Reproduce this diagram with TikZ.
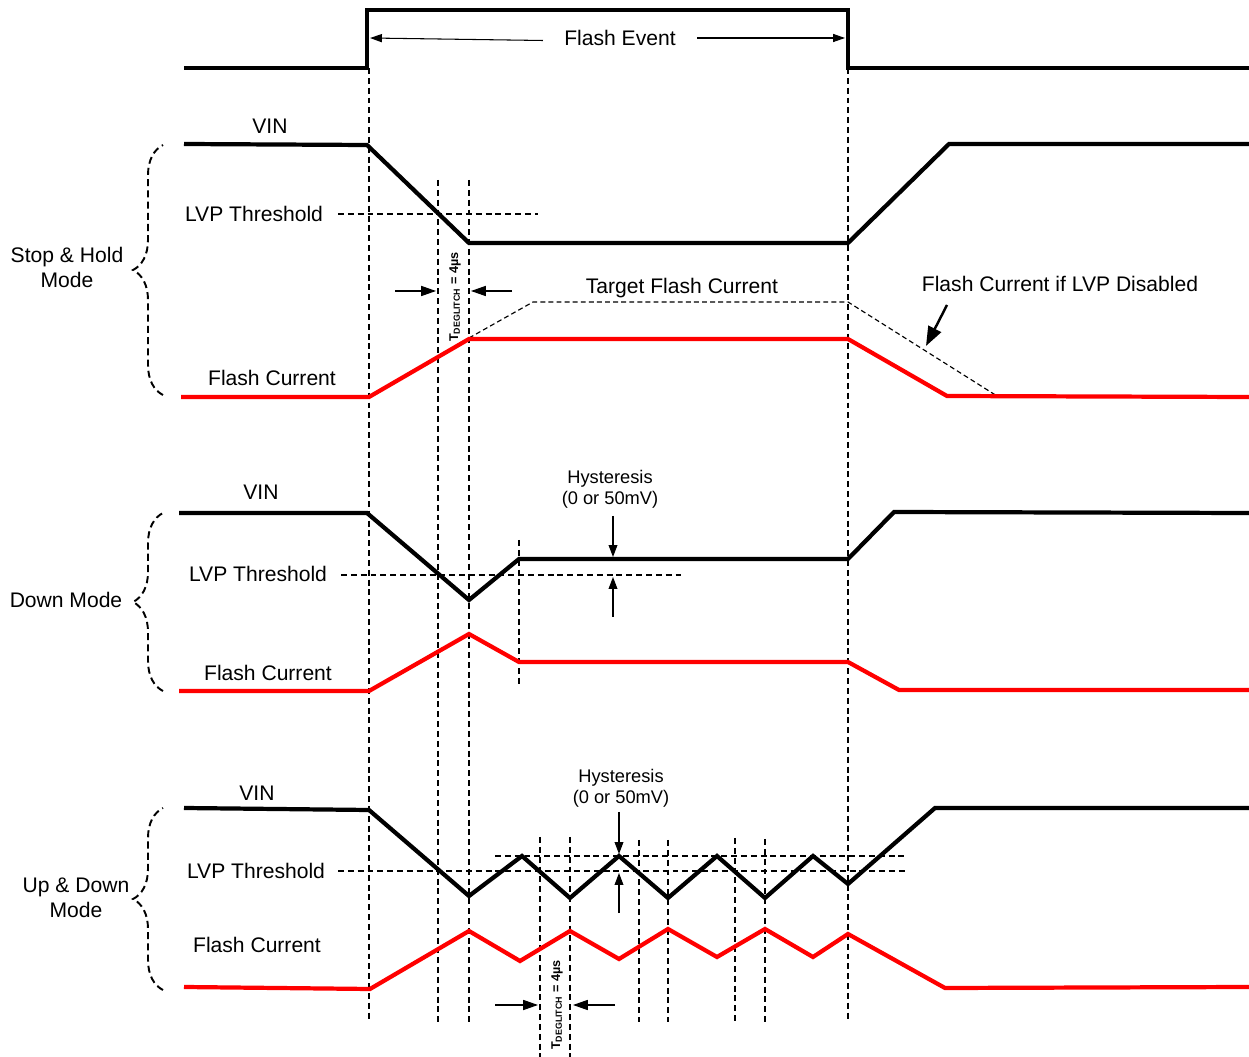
\documentclass[tikz,border=0pt]{standalone}
\usepackage{fontspec}
\setmainfont{Liberation Sans}
\usetikzlibrary{arrows.meta, decorations.pathreplacing}

\begin{document}
\begin{tikzpicture}[
  x=0.02cm, y=-0.02cm,
  font=\fontsize{12}{14.2}\selectfont,
  wave/.style={line width=2.4pt, draw=black},
  fcur/.style={line width=2.4pt, draw=red},
  guide/.style={line width=0.7pt, dash pattern=on 3.4pt off 2.2pt},
  tgtline/.style={line width=0.65pt, dash pattern=on 2.8pt off 1.8pt},
  lbl/.style={inner sep=0pt},
  hyst/.style={align=center, inner sep=0pt, font=\fontsize{10.4}{12.2}\selectfont},
  tdeg/.style={rotate=90, inner sep=0pt, font=\fontsize{7.2}{8}\selectfont\bfseries},
  evarr/.style={line width=0.6pt, -{Triangle[length=6.8pt, width=4.6pt]}},
  hysarr/.style={line width=0.6pt, -{Triangle[length=6.8pt, width=5pt]}},
  tdarr/.style={line width=0.6pt, -{Triangle[length=8.5pt, width=5.8pt]}},
  bigarr/.style={line width=1.4pt, -{Triangle[length=11pt, width=8pt]}},
  modebrace/.style={line width=1.1pt, dash pattern=on 4pt off 2.4pt, decorate,
    decoration={brace, amplitude=0.6cm}}
]
\useasboundingbox (0,0) rectangle (1249,1057);

% vertical guides
\foreach \x/\ya/\yb in {369/68/1022, 848/68/1022, 438/180/1022, 469/180/1022,
    519/540/685, 540/837/1057, 570/837/1057, 639/840/1022, 668/840/1022,
    735/838/1022, 765/839/1022}
  \draw[guide] (\x,\ya) -- (\x,\yb);

% threshold guides
\draw[guide] (338,214) -- (538,214);
\draw[guide] (341,575) -- (684,575);
\draw[guide] (495,856) -- (907,856);
\draw[guide] (338,871) -- (907,871);

% flash event
\draw[wave] (184,68) -- (367,68) -- (367,10) -- (848,10) -- (848,68) -- (1249,68);
\node[lbl, inner xsep=0.42cm] (fe) at (620,38) {Flash Event};
\coordinate (feL) at (370,38);
\coordinate (feR) at (845,38);
\draw[evarr] ([yshift=-0.05cm]fe.west) -- (feL);
\draw[evarr] (fe.east) -- (feR);

% stop & hold mode
\draw[wave] (184,144) -- (367,145) -- (469,243) -- (848,243) -- (949,144) -- (1249,144);
\draw[tgtline] (469,338) -- (533,302) -- (848,302) -- (997,396);
\draw[fcur] (181,397) -- (369,397) -- (469,339) -- (848,339) -- (947,396) -- (1249,397);
\node[lbl] (vin1) at (270,126) {VIN};
\node[lbl] (lvp1) at (254,214) {LVP Threshold};
\node[lbl] (fc1) at (272,378) {Flash Current};
\node[lbl] (tfc) at (682,288) {Target Flash Current};
\node[lbl] (lvpoff) at (1060,284) {Flash Current if LVP Disabled};
\coordinate (offA) at (947,305);
\coordinate (offB) at (926,346);
\draw[bigarr] (offA) -- (offB);
\node[tdeg] (td1) at (455,297) {T\textsubscript{DEGLITCH} = 4µs};
\coordinate (td1a) at (395,291); \coordinate (td1b) at (436,291);
\coordinate (td1c) at (512,291); \coordinate (td1d) at (471,291);
\draw[tdarr] (td1a) -- (td1b);
\draw[tdarr] (td1c) -- (td1d);
\draw[modebrace] (163,395) -- (163,145);
\node[lbl, align=center] (sh) at (67,267) {Stop \& Hold\\Mode};

% down mode
\draw[wave] (179,513) -- (367,513) -- (469,600) -- (519,559) -- (848,559) -- (894,512) -- (1249,513);
\draw[fcur] (179,691) -- (369,691) -- (469,634) -- (519,662) -- (848,662) -- (899,690) -- (1249,690);
\node[lbl] (vin2) at (261,492) {VIN};
\node[lbl] (lvp2) at (258,574) {LVP Threshold};
\node[lbl] (fc2) at (268,673) {Flash Current};
\node[hyst] (hys1) at (610,489) {Hysteresis\\(0 or 50mV)};
\coordinate (h1top) at (613,516); \coordinate (h1hi) at (613,557);
\coordinate (h1bot) at (613,617); \coordinate (h1lo) at (613,577);
\draw[hysarr] (h1top) -- (h1hi);
\draw[hysarr] (h1bot) -- (h1lo);
\draw[modebrace] (163,691) -- (163,513);
\node[lbl] (dm) at (66,600) {Down Mode};

% up & down mode
\draw[wave] (184,808) -- (369,810) -- (469,896) -- (522,856) -- (570,898) -- (619,856)
  -- (668,898) -- (717,856) -- (765,898) -- (813,856) -- (848,884) -- (935,808) -- (1249,808);
\draw[fcur] (184,987) -- (370,989) -- (469,931) -- (520,961) -- (570,931) -- (619,959)
  -- (668,929) -- (717,957) -- (765,929) -- (813,957) -- (848,934) -- (945,988) -- (1249,987);
\node[lbl] (vin3) at (257,793) {VIN};
\node[lbl] (lvp3) at (256,871) {LVP Threshold};
\node[lbl] (fc3) at (257,945) {Flash Current};
\node[hyst] (hys2) at (621,788) {Hysteresis\\(0 or 50mV)};
\coordinate (h2top) at (619,812); \coordinate (h2hi) at (619,854);
\coordinate (h2bot) at (619,913); \coordinate (h2lo) at (619,873);
\draw[hysarr] (h2top) -- (h2hi);
\draw[hysarr] (h2bot) -- (h2lo);
\node[tdeg] (td2) at (557,1005) {T\textsubscript{DEGLITCH} = 4µs};
\coordinate (td2a) at (495,1005); \coordinate (td2b) at (538,1005);
\coordinate (td2c) at (615,1005); \coordinate (td2d) at (573,1005);
\draw[tdarr] (td2a) -- (td2b);
\draw[tdarr] (td2c) -- (td2d);
\draw[modebrace] (163,990) -- (163,808);
\node[lbl, align=center] (ud) at (76,898) {Up \& Down\\Mode};

\end{tikzpicture}
\end{document}
